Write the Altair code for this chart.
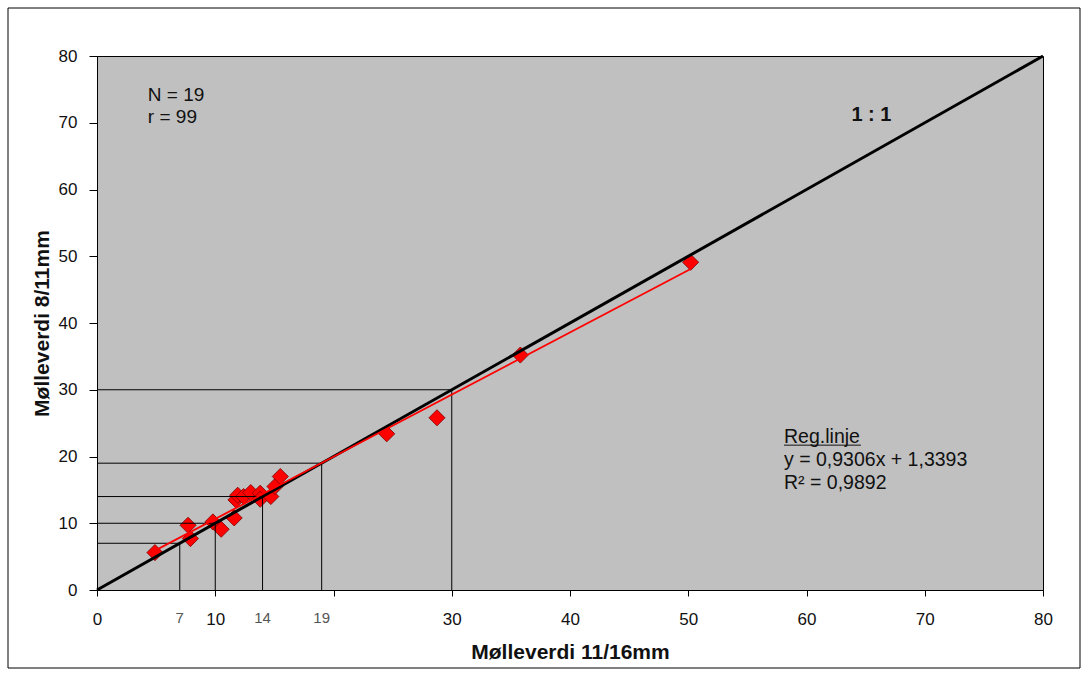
import altair as alt
import pandas as pd

x_1116 = [4.9, 7.7, 7.9, 9.8, 10.5, 11.6, 11.75, 11.9, 12.4, 13.0, 13.8, 13.8,
          14.7, 15.05, 15.5, 24.5, 28.75, 35.8, 50.2]
y_811 = [5.6, 9.7, 7.7, 10.2, 9.1, 10.8, 13.5, 14.2, 14.0, 14.6, 14.5, 13.6,
         14.0, 15.5, 17.0, 23.4, 25.8, 35.2, 49.1]

# Regression line end points (as drawn)
reg_x = [4.9, 50.2]
reg_y = [5.9, 48.1]

# 1:1 line
one_x = [0, 80]
one_y = [0, 80]

# Guide (read-off) lines
guide_values = [7, 10, 14, 19, 30]

# Extra x labels placed under the axis
extra_label_values = [7, 14, 19]
extra_label_texts = ["7", "14", "19"]

axis_ticks = [0, 10, 20, 30, 40, 50, 60, 70, 80]

FONT = "Liberation Sans"

xs = alt.Scale(domain=[0, 80], nice=False, zero=False)
ys = alt.Scale(domain=[0, 80], nice=False, zero=False)

xaxis = alt.Axis(
    values=axis_ticks,
    labelExpr="datum.value == 20 ? '' : datum.label",
    title="Mølleverdi 11/16mm", titleFontSize=21, titleFontWeight="bold",
    titleY=62, titleBaseline="middle", titleColor="#111", titleFont=FONT,
    labelFontSize=17, labelColor="#111", labelFont=FONT, tickSize=6, labelPadding=15,
    domainColor="black", tickColor="black", grid=False, labelFlush=False)
yaxis = alt.Axis(
    values=axis_ticks,
    title="Mølleverdi 8/11mm", titleFontSize=21, titleFontWeight="bold",
    titleAngle=270, titleX=-55, titleY=267, titleBaseline="middle",
    titleAlign="center", titleColor="#111", titleFont=FONT,
    labelFontSize=17, labelColor="#111", labelFont=FONT, tickSize=8, labelPadding=12,
    domainColor="black", tickColor="black", grid=False, labelFlush=False)


def X(f):
    return alt.X(f, scale=xs, axis=xaxis)


def Y(f):
    return alt.Y(f, scale=ys, axis=yaxis)


pts = pd.DataFrame({"x": x_1116, "y": y_811})
reg = pd.DataFrame({"x": reg_x, "y": reg_y})
one = pd.DataFrame({"x": one_x, "y": one_y})
guides = pd.DataFrame({"v": guide_values, "zero": [0] * len(guide_values)})
extra = pd.DataFrame({"x": extra_label_values, "t": extra_label_texts,
                      "y": [-4.2] * len(extra_label_values)})

points = alt.Chart(pts).mark_point(
    shape="diamond", filled=True, fill="#FF0000", stroke="#7A0000",
    strokeWidth=0.8, size=260, opacity=1
).encode(x=X("x:Q"), y=Y("y:Q"))

hguides = alt.Chart(guides).mark_rule(color="black", strokeWidth=1).encode(
    x=X("zero:Q"), x2="v:Q", y=Y("v:Q"),
)
vguides = alt.Chart(guides).mark_rule(color="black", strokeWidth=1).encode(
    x=X("v:Q"), y=Y("zero:Q"), y2="v:Q",
)

one_line = alt.Chart(one).mark_line(color="black", strokeWidth=3).encode(
    x=X("x:Q"), y=Y("y:Q")
)

reg_line = alt.Chart(reg).mark_line(color="#FF0000", strokeWidth=1.8).encode(
    x=X("x:Q"), y=Y("y:Q")
)

extra_labels = alt.Chart(extra).mark_text(
    font=FONT, fontSize=15, color="#555", baseline="middle", align="center"
).encode(x=X("x:Q"), y=Y("y:Q"), text="t:N")

stats = pd.DataFrame({"x": [4.3, 4.3], "y": [74.2, 70.9], "t": ["N = 19", "r = 99"]})
stats_text = alt.Chart(stats).mark_text(
    font=FONT, align="left", baseline="middle", fontSize=19, color="#111"
).encode(x=X("x:Q"), y=Y("y:Q"), text="t:N")

oneone = pd.DataFrame({"x": [63.8], "y": [71.2], "t": ["1 : 1"]})
oneone_text = alt.Chart(oneone).mark_text(
    font=FONT, align="left", baseline="middle", fontSize=20, fontWeight="bold", color="#111"
).encode(x=X("x:Q"), y=Y("y:Q"), text="t:N")

regtxt = pd.DataFrame({"x": [58.1, 58.1, 58.1], "y": [22.9, 19.5, 16.1],
                       "t": ["Reg.linje", "y = 0,9306x  + 1,3393", "R² = 0,9892"]})
reg_text = alt.Chart(regtxt).mark_text(
    font=FONT, align="left", baseline="middle", fontSize=19.5, color="#111"
).encode(x=X("x:Q"), y=Y("y:Q"), text="t:N")

underline = pd.DataFrame({"x": [58.1], "x2": [64.6], "y": [21.7]})
underline_rule = alt.Chart(underline).mark_rule(color="#111", strokeWidth=1).encode(
    x=X("x:Q"), x2="x2:Q", y=Y("y:Q"),
)

frame = alt.Chart(pd.DataFrame({"a": [0]})).mark_rect(
    fillOpacity=0, stroke="black", strokeWidth=1
).encode(
    x=alt.value(-89), x2=alt.value(983), y=alt.value(-48), y2=alt.value(612)
)

chart = alt.layer(
    points, hguides, vguides, one_line, reg_line, extra_labels,
    stats_text, oneone_text, reg_text, underline_rule, frame
).properties(
    width=946, height=534,
    autosize=alt.AutoSizeParams(type="none"),
    padding={"left": 97, "top": 56, "right": 45, "bottom": 87},
    background="white",
).configure(
    font=FONT
).configure_view(
    fill="#C0C0C0", stroke="black", strokeWidth=1
)

chart.save("out.html", embed_options={"renderer": "svg", "actions": False})
